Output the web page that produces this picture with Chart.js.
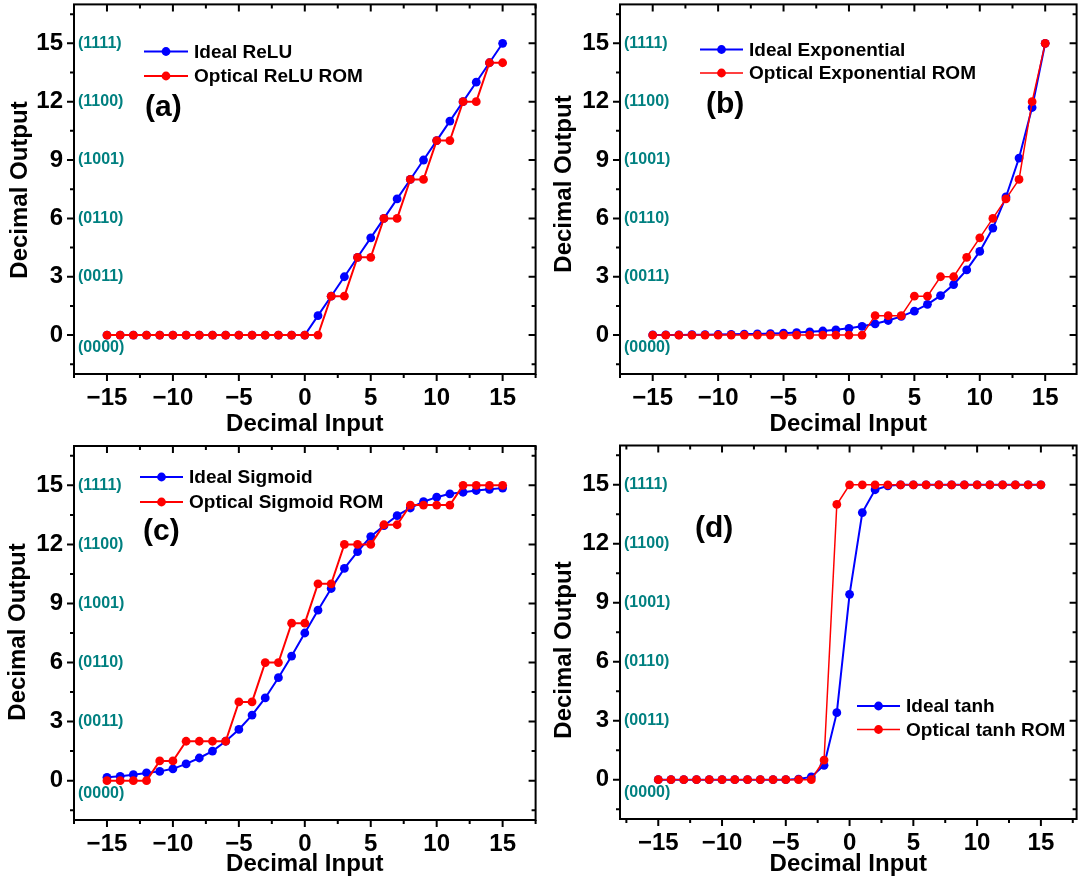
<!DOCTYPE html>
<html>
<head>
<meta charset="utf-8">
<script src="https://cdn.jsdelivr.net/npm/chart.js@4.4.1/dist/chart.umd.min.js"></script>
<style>
  body { margin: 0; background: #fff; }
  #wrap { position: relative; width: 1081px; height: 882px; overflow: hidden; }
  canvas { position: absolute; }
</style>
</head>
<body>
<div id="wrap">
  <canvas id="pa" width="540" height="440" style="left:0;top:0"></canvas>
  <canvas id="pb" width="541" height="440" style="left:540px;top:0"></canvas>
  <canvas id="pc" width="540" height="442" style="left:0;top:440px"></canvas>
  <canvas id="pd" width="541" height="442" style="left:540px;top:440px"></canvas>
</div>
<script>
// decimal inputs shared by all four panels
const inputs = [-15, -14, -13, -12, -11, -10, -9, -8, -7, -6, -5, -4, -3, -2, -1,
  0, 1, 2, 3, 4, 5, 6, 7, 8, 9, 10, 11, 12, 13, 14, 15];

const reluIdeal = [0, 0, 0, 0, 0, 0, 0, 0, 0, 0, 0, 0, 0, 0, 0,
  0, 1, 2, 3, 4, 5, 6, 7, 8, 9, 10, 11, 12, 13, 14, 15];
const reluOptical = [0, 0, 0, 0, 0, 0, 0, 0, 0, 0, 0, 0, 0, 0, 0,
  0, 0, 2, 2, 4, 4, 6, 6, 8, 8, 10, 10, 12, 12, 14, 14];

const expIdeal = [0.01, 0.01, 0.01, 0.02, 0.02, 0.03, 0.04, 0.05, 0.06, 0.08, 0.1, 0.13, 0.17, 0.21, 0.27,
  0.35, 0.45, 0.58, 0.75, 0.96, 1.23, 1.58, 2.03, 2.6, 3.35, 4.3, 5.5, 7.1, 9.1, 11.7, 15];
const expOptical = [0, 0, 0, 0, 0, 0, 0, 0, 0, 0, 0, 0, 0, 0, 0,
  0, 0, 1, 1, 1, 2, 2, 3, 3, 4, 5, 6, 7, 8, 12, 15];

const sigIdeal = [0.17, 0.22, 0.3, 0.39, 0.47, 0.6, 0.85, 1.15, 1.5, 2.0, 2.6, 3.33, 4.2, 5.23, 6.33,
  7.5, 8.66, 9.76, 10.78, 11.63, 12.4, 12.95, 13.46, 13.85, 14.17, 14.4, 14.57, 14.65, 14.74, 14.8, 14.86];
const sigOptical = [0, 0, 0, 0, 1, 1, 2, 2, 2, 2, 4, 4, 6, 6, 8,
  8, 10, 10, 12, 12, 12, 13, 13, 14, 14, 14, 14, 15, 15, 15, 15];

const tanhIdeal = [0, 0, 0, 0, 0, 0, 0, 0, 0, 0, 0, 0.03, 0.14, 0.73, 3.41,
  9.43, 13.59, 14.75, 14.95, 15, 15, 15, 15, 15, 15, 15, 15, 15, 15, 15, 15];
const tanhOptical = [0, 0, 0, 0, 0, 0, 0, 0, 0, 0, 0, 0, 0, 1, 14,
  15, 15, 15, 15, 15, 15, 15, 15, 15, 15, 15, 15, 15, 15, 15, 15];

const xTickValues = [-15, -10, -5, 0, 5, 10, 15];
const yTickValues = [0, 3, 6, 9, 12, 15];
const binLabels = ["(0000)", "(0011)", "(0110)", "(1001)", "(1100)", "(1111)"];
const binLevels = [-0.65, 3, 6, 9, 12, 15];

const FONT = '"Liberation Sans", Arial, sans-serif';
const TEAL = "#008080";
const BLUE = "#0000ff";
const RED = "#ff0000";

const panels = [
  {
    id: "pa", ideal: reluIdeal, optical: reluOptical,
    names: ["Ideal ReLU", "Optical ReLU ROM"],
    xMin: -17.5, xMax: 17.5, w: 540, h: 440, box: { l: 74, t: 3, r: 538, b: 374 },
    letter: "(a)", letterAt: [145, 108],
    legend: { x1: 144, x2: 188, tx: 194, rows: [51.5, 76] },
    yTitleAt: [20, 190], titlePad: 1.6, redWidth: 2,
  },
  {
    id: "pb", ideal: expIdeal, optical: expOptical,
    names: ["Ideal Exponential", "Optical Exponential ROM"],
    xMin: -17.5, xMax: 17.4, w: 541, h: 440, box: { l: 80, t: 3, r: 539, b: 374 },
    letter: "(b)", letterAt: [166, 105],
    legend: { x1: 160, x2: 203, tx: 209, rows: [49.5, 73] },
    yTitleAt: [24, 184], titlePad: 1, redWidth: 1.5,
  },
  {
    id: "pc", ideal: sigIdeal, optical: sigOptical,
    names: ["Ideal Sigmoid", "Optical Sigmoid ROM"],
    xMin: -17.5, xMax: 17.5, w: 540, h: 442, box: { l: 74, t: 6, r: 538, b: 380 },
    letter: "(c)", letterAt: [143, 92],
    legend: { x1: 140, x2: 183, tx: 189, rows: [37, 62] },
    yTitleAt: [18, 192], titlePad: 3.6, redWidth: 2,
  },
  {
    id: "pd", ideal: tanhIdeal, optical: tanhOptical,
    names: ["Ideal tanh", "Optical tanh ROM"],
    xMin: -18, xMax: 17.8, w: 541, h: 442, box: { l: 80, t: 5.5, r: 539, b: 379 },
    letter: "(d)", letterAt: [155, 89],
    legend: { x1: 317, x2: 360, tx: 366, rows: [266, 289.5] },
    yTitleAt: [24, 210], titlePad: 3, redWidth: 1.5,
  },
];

function fmtTick(v) {
  return v < 0 ? "\u2212" + Math.abs(v) : String(v);
}

// frame, mirrored ticks, binary level labels, panel letter, legend, y title
const panelDeco = {
  id: "panelDeco",
  beforeDatasetsDraw(chart) {
    const { ctx, chartArea: a, scales } = chart;
    ctx.save();
    ctx.fillStyle = TEAL;
    ctx.font = `bold 16px ${FONT}`;
    ctx.textAlign = "left";
    ctx.textBaseline = "middle";
    binLabels.forEach((t, i) => {
      ctx.fillText(t, a.left + 4, scales.y.getPixelForValue(binLevels[i]));
    });
    ctx.restore();
  },
  afterDraw(chart, args, o) {
    const { ctx, chartArea: a, scales } = chart;
    const x = scales.x, y = scales.y;
    ctx.save();
    ctx.strokeStyle = "#000";
    ctx.lineWidth = 2;
    ctx.beginPath();
    for (let v = -1.5; v <= 16.5; v += 1.5) {
      const len = Math.round(v / 1.5) % 2 === 0 ? 7 : 4;
      const py = y.getPixelForValue(v);
      ctx.moveTo(a.left - len, py); ctx.lineTo(a.left, py);
      ctx.moveTo(a.right, py); ctx.lineTo(a.right - len, py);
    }
    for (let v = -17.5; v <= 17.5; v += 2.5) {
      if (v < x.min || v > x.max) continue;
      const len = Math.round(v / 2.5) % 2 === 0 ? 7 : 4;
      const px = x.getPixelForValue(v);
      ctx.moveTo(px, a.bottom); ctx.lineTo(px, a.bottom + len);
      ctx.moveTo(px, a.top); ctx.lineTo(px, a.top + len);
    }
    ctx.stroke();
    ctx.strokeRect(a.left, a.top, a.right - a.left, a.bottom - a.top);

    // panel letter
    ctx.fillStyle = "#000";
    ctx.font = `bold 30px ${FONT}`;
    ctx.textAlign = "left";
    ctx.textBaseline = "middle";
    ctx.fillText(o.letter, o.letterAt[0], o.letterAt[1]);

    // legend
    const lg = o.legend;
    ctx.font = `bold 19px ${FONT}`;
    chart.data.datasets.forEach((ds, i) => {
      const ry = lg.rows[i];
      ctx.strokeStyle = ds.borderColor;
      ctx.lineWidth = ds.borderWidth;
      ctx.beginPath();
      ctx.moveTo(lg.x1, ry); ctx.lineTo(lg.x2, ry);
      ctx.stroke();
      ctx.fillStyle = ds.pointBackgroundColor;
      ctx.beginPath();
      ctx.arc((lg.x1 + lg.x2) / 2, ry, ds.pointRadius, 0, Math.PI * 2);
      ctx.fill();
      ctx.fillStyle = "#000";
      ctx.fillText(ds.label, lg.tx, ry + 1);
    });

    // y axis title
    ctx.save();
    ctx.translate(o.yTitleAt[0], o.yTitleAt[1]);
    ctx.rotate(-Math.PI / 2);
    ctx.font = `bold 24px ${FONT}`;
    ctx.textAlign = "center";
    ctx.textBaseline = "middle";
    ctx.fillText("Decimal Output", 0, 0);
    ctx.restore();
    ctx.restore();
  },
};

for (const p of panels) {
  const pts = (arr) => inputs.map((v, i) => ({ x: v, y: arr[i] }));
  new Chart(document.getElementById(p.id), {
    type: "line",
    data: {
      datasets: [
        {
          label: p.names[0], data: pts(p.ideal), order: 1,
          borderColor: BLUE, backgroundColor: BLUE, borderWidth: 2,
          pointBackgroundColor: BLUE, pointBorderWidth: 0, pointRadius: 4.4,
        },
        {
          label: p.names[1], data: pts(p.optical), order: 0,
          borderColor: RED, backgroundColor: RED, borderWidth: p.redWidth,
          pointBackgroundColor: RED, pointBorderWidth: 0, pointRadius: 4.4,
        },
      ],
    },
    options: {
      responsive: false,
      animation: false,
      devicePixelRatio: 1,
      layout: { padding: { left: 0, top: p.box.t, right: p.w - p.box.r, bottom: 0 } },
      plugins: {
        legend: { display: false },
        tooltip: { enabled: false },
        panelDeco: p,
      },
      scales: {
        x: {
          type: "linear",
          min: p.xMin,
          max: p.xMax,
          grid: { display: false, drawTicks: false },
          border: { display: false },
          afterBuildTicks: (s) => { s.ticks = xTickValues.map((v) => ({ value: v })); },
          afterFit: (s) => { s.height = p.h - p.box.b; s.paddingLeft = 0; s.paddingRight = 0; },
          ticks: {
            color: "#000", padding: 10, maxRotation: 0, autoSkip: false,
            font: { family: FONT, size: 24, weight: "bold" },
            callback: fmtTick,
          },
          title: {
            display: true, text: "Decimal Input", color: "#000",
            font: { family: FONT, size: 24, weight: "bold" },
            padding: { top: 0, bottom: p.titlePad },
          },
        },
        y: {
          type: "linear",
          min: -2,
          max: 17,
          grid: { display: false, drawTicks: false },
          border: { display: false },
          afterBuildTicks: (s) => { s.ticks = yTickValues.map((v) => ({ value: v })); },
          afterFit: (s) => { s.width = p.box.l; s.paddingTop = 0; s.paddingBottom = 0; },
          ticks: {
            color: "#000", padding: 11, autoSkip: false,
            font: { family: FONT, size: 24, weight: "bold" },
            callback: fmtTick,
          },
        },
      },
    },
    plugins: [panelDeco],
  });
}
</script>
</body>
</html>
